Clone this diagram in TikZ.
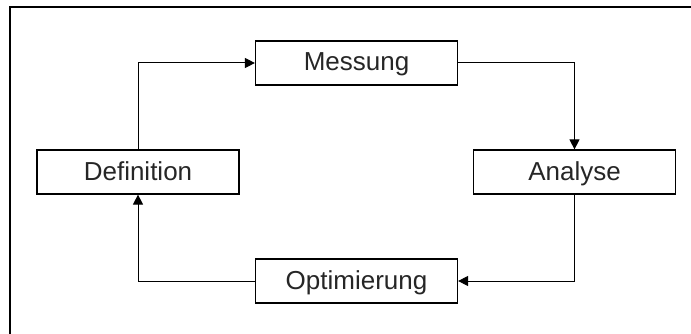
\documentclass[tikz,border=0pt]{standalone}
\usepackage{fontspec}
\setmainfont{Liberation Sans}
\usetikzlibrary{arrows.meta}
\begin{document}
\begin{tikzpicture}[x=1pt,y=-1pt,
  stepbox/.style={draw=black,line width=1.2pt,minimum width=202pt,minimum height=44pt,inner sep=0pt,text height=20pt,text depth=4pt,font=\fontsize{26}{30}\selectfont,text=black!85},
  conn/.style={draw=black,line width=1pt,-{Triangle[length=10pt,width=10pt]}}]
\useasboundingbox (0,0) rectangle (691,334);
\draw[line width=1.8pt] (691,7) -- (10,7) -- (10,334);
\node[stepbox] (def) at (138,172) {Definition};
\node[stepbox] (mes) at (356.5,63) {Messung};
\node[stepbox] (ana) at (574.5,172) {Analyse};
\node[stepbox] (opt) at (356.5,281) {Optimierung};
\draw[conn] (def.north) |- (mes.west);
\draw[conn] (mes.east) -| (ana.north);
\draw[conn] (ana.south) |- (opt.east);
\draw[conn] (opt.west) -| (def.south);
\end{tikzpicture}
\end{document}
